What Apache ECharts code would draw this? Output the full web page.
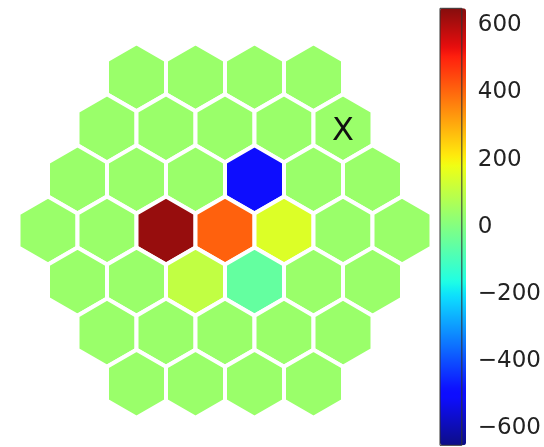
<!DOCTYPE html>
<html><head><meta charset="utf-8">
<script src="https://cdn.jsdelivr.net/npm/echarts@6/dist/echarts.min.js"></script>
<style>html,body{margin:0;padding:0;background:#fff}#c{width:544px;height:447px}</style>
</head><body><div id="c"></div>
<script>
// Hexagon values, one array per row, top to bottom
const row0 = [40, 40, 40, 40];
const row1 = [40, 40, 40, 40, 40];
const row2 = [40, 40, 40, -500, 40, 40];
const row3 = [40, 40, 630, 410, 150, 40, 40];
const row4 = [40, 40, 105, -50, 40, 40];
const row5 = [40, 40, 40, 40, 40];
const row6 = [40, 40, 40, 40];
const hexRows = [row0, row1, row2, row3, row4, row5, row6];
// Marked hexagon (row, column, text)
const markRow = 1, markCol = 4, markText = 'X';
// Colour bar
const colorMin = -650, colorMax = 650;
const colorbarTicks = [-600, -400, -200, 0, 200, 400, 600];

function jet(t) {
  function interp(pts) {
    for (let i = 0; i < pts.length - 1; i++) {
      const [x0, y0] = pts[i], [x1, y1] = pts[i + 1];
      if (t >= x0 && t <= x1) return y0 + (y1 - y0) * (t - x0) / (x1 - x0);
    }
    return pts[pts.length - 1][1];
  }
  const r = interp([[0,0],[0.35,0],[0.66,1],[0.89,1],[1,0.5]]);
  const g = interp([[0,0],[0.125,0],[0.375,1],[0.64,1],[0.91,0],[1,0]]);
  const b = interp([[0,0.5],[0.11,1],[0.34,1],[0.65,0],[1,0]]);
  const w = 0.05;
  const f = v => Math.round((v * (1 - w) + w) * 255);
  return 'rgb(' + f(r) + ',' + f(g) + ',' + f(b) + ')';
}
const palette = [];
for (let i = 0; i <= 64; i++) palette.push(jet(i / 64));

const data = [];
const labels = [];
const S3 = Math.sqrt(3);
hexRows.forEach((row, r) => {
  row.forEach((v, c) => {
    data.push([c - (row.length - 1) / 2, (3 - r) * S3 / 2, v]);
    labels.push(r === markRow && c === markCol ? markText : '');
  });
});

function renderItem(params, api) {
  const cx = api.value(0), cy = api.value(1);
  const R = 1 / S3;
  const pts = [];
  for (let k = 0; k < 6; k++) {
    const a = Math.PI / 6 + k * Math.PI / 3;
    pts.push(api.coord([cx + R * Math.cos(a), cy + R * Math.sin(a)]));
  }
  const children = [{
    type: 'polygon', shape: { points: pts },
    style: { fill: api.visual('color'), stroke: '#ffffff', lineWidth: 4, lineJoin: 'miter' }
  }];
  const lab = labels[params.dataIndex];
  if (lab) {
    const p = api.coord([cx, cy]);
    children.push({ type: 'text', x: p[0], y: p[1] + 3,
      style: { text: lab, fill: '#111', font: '32px "DejaVu Sans"', align: 'center', verticalAlign: 'middle' } });
  }
  return { type: 'group', children };
}

const chart = echarts.init(document.getElementById('c'), null, { renderer: 'canvas' });
chart.setOption({
  animation: false,
  backgroundColor: '#fff',
  grid: [
    { left: 0.8, top: 18.1, width: 448.4, height: 424.8 },
    { left: 440, top: 8.3, width: 26, height: 437, show: true, z: 10, borderColor: '#333', borderWidth: 1, backgroundColor: 'transparent' }
  ],
  xAxis: [
    { gridIndex: 0, type: 'value', min: -3.8, max: 3.8, show: false },
    { gridIndex: 1, type: 'value', min: 0, max: 1, show: false }
  ],
  yAxis: [
    { gridIndex: 0, type: 'value', min: -3.6, max: 3.6, show: false },
    { gridIndex: 1, type: 'value', min: colorMin, max: colorMax, position: 'right',
      axisLine: { show: false }, splitLine: { show: false },
      axisTick: { show: true, length: 8, customValues: colorbarTicks, lineStyle: { color: '#333', width: 1.5 } },
      axisLabel: { margin: 16, customValues: colorbarTicks, fontSize: 23, color: '#222', fontFamily: 'DejaVu Sans',
        formatter: v => String(v).replace('-', '\u2212') } }
  ],
  visualMap: {
    type: 'continuous', seriesIndex: 0, dimension: 2, min: colorMin, max: colorMax,
    left: 440, top: 8.3, itemWidth: 26, itemHeight: 437, padding: 0,
    calculable: false, hoverLink: false, text: null, showLabel: false,
    inRange: { color: palette }
  },
  series: [{
    type: 'custom', xAxisIndex: 0, yAxisIndex: 0, renderItem,
    encode: { x: 0, y: 1 }, data
  }]
});
</script></body></html>
